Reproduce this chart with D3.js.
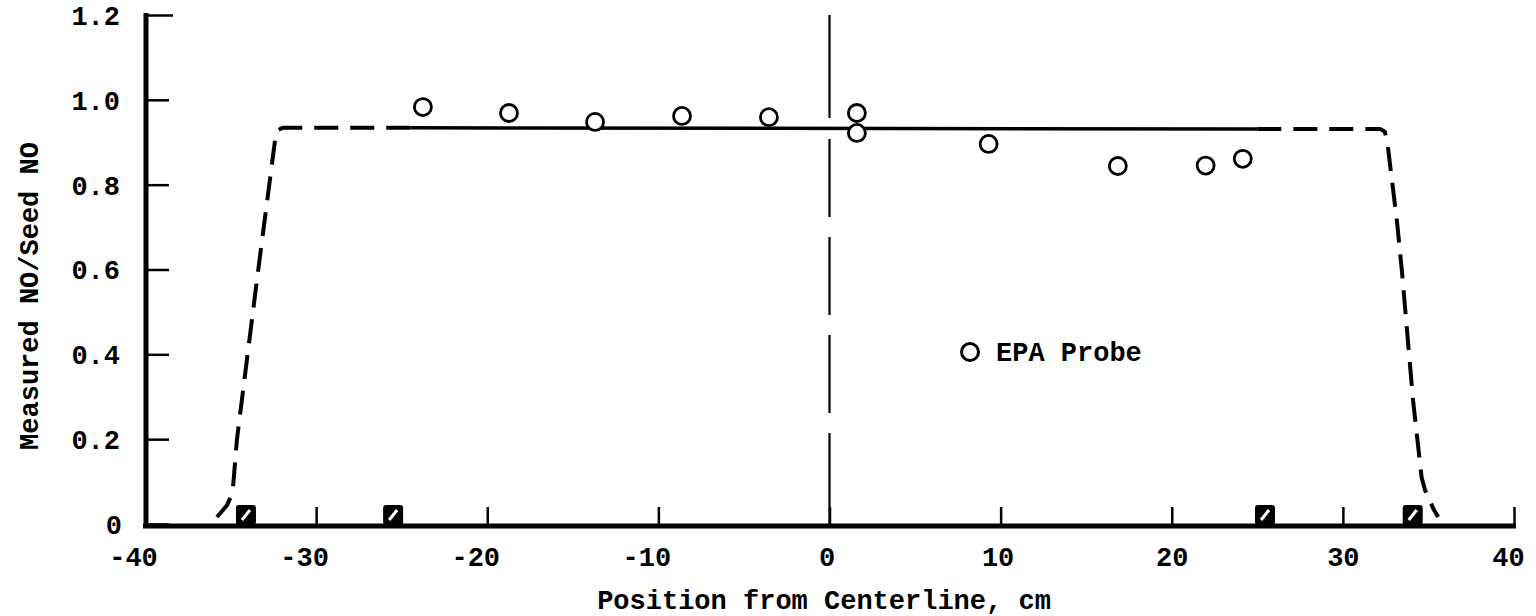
<html>
<head>
    <script src="https://d3js.org/d3.v7.min.js"></script>
    <style>
        body { margin: 0; background: #fff; }
        text { font-family: "Liberation Mono", "Courier New", monospace; fill: #000; font-weight: bold; }
    </style>
</head>
<body>
    <svg id="chart" width="1536" height="616"></svg>
    <script>
        // EPA probe readings
        const probeX = [-23.76, -18.73, -13.7, -8.62, -3.54, 1.6, 1.6, 9.3, 16.85, 21.98, 24.15];
        const probeY = [0.983, 0.969, 0.948, 0.962, 0.959, 0.969, 0.922, 0.896, 0.844, 0.845, 0.861];

        // solid profile across the core
        const coreX = [-24.5, 25.0];
        const coreY = [0.934, 0.931];

        // dashed edges of the profile
        const leftX = [-24.5, -31.95, -32.25, -32.4, -33.46, -34.34, -34.63, -34.86, -35.0, -35.2, -35.5, -35.8];
        const leftY = [0.934, 0.934, 0.928, 0.905, 0.575, 0.292, 0.198, 0.085, 0.063, 0.045, 0.03, 0.0165];
        const rightX = [25.0, 32.2, 32.45, 32.6, 33.17, 33.46, 34.1, 34.6, 34.8, 35.05, 35.3, 35.57];
        const rightY = [0.931, 0.931, 0.925, 0.9, 0.71, 0.592, 0.292, 0.11, 0.08, 0.058, 0.035, 0.0165];

        // hatched markers on the wall
        const markerX = [-34.1, -25.5, 25.45, 34.08];

        const xTicks = [-40, -30, -20, -10, 0, 10, 20, 30, 40];
        const yTicks = [0, 0.2, 0.4, 0.6, 0.8, 1.0, 1.2];

        const svg = d3.select("#chart");
        const x = d3.scaleLinear().domain([-40, 40]).range([145, 1514]);
        const y = d3.scaleLinear().domain([0, 1.2]).range([524, 15]);

        const line = d3.line().x(d => x(d[0])).y(d => y(d[1]));

        // centerline
        svg.append("line")
            .attr("x1", x(0)).attr("x2", x(0))
            .attr("y1", y(1.2)).attr("y2", y(0))
            .attr("stroke", "#000").attr("stroke-width", 2.2)
            .attr("stroke-dasharray", "103 21 78 20 78 20 78 20 95");

        // profile
        svg.append("path")
            .datum(leftX.map((v, i) => [v, leftY[i]]))
            .attr("d", line).attr("fill", "none").attr("stroke", "#000")
            .attr("stroke-width", 4).attr("stroke-dasharray", "24 12")
            .attr("stroke-linejoin", "round");
        svg.append("path")
            .datum(rightX.map((v, i) => [v, rightY[i]]))
            .attr("d", line).attr("fill", "none").attr("stroke", "#000")
            .attr("stroke-width", 4).attr("stroke-dasharray", "24 12")
            .attr("stroke-linejoin", "round");
        svg.append("path")
            .datum(coreX.map((v, i) => [v, coreY[i]]))
            .attr("d", line)
            .attr("fill", "none").attr("stroke", "#000").attr("stroke-width", 3.5);

        // axes
        const yAxis = svg.append("g")
            .attr("transform", "translate(146,0)")
            .call(d3.axisLeft(y).tickValues(yTicks).tickSize(-23).tickSizeOuter(0).tickPadding(26)
                .tickFormat(d => d === 0 ? "0" : d3.format(".1f")(d)));
        yAxis.select(".domain").attr("stroke-width", 5).attr("d", "M0,527V13");
        yAxis.selectAll(".tick line").attr("stroke-width", 2.5).attr("x2", d => d === 1.2 ? 27 : 23);
        yAxis.selectAll(".tick text").attr("font-size", 27).attr("font-family", null)
            .attr("dy", "0.35em").attr("x", d => d === 0 ? -24 : -26);

        const xAxis = svg.append("g")
            .attr("transform", "translate(0,526)")
            .call(d3.axisBottom(x).tickValues(xTicks).tickSize(-19).tickSizeOuter(0).tickPadding(22)
                .tickFormat(d => String(d)));
        xAxis.select(".domain").attr("stroke-width", 5).attr("d", "M143,0H1516");
        xAxis.selectAll(".tick line").attr("stroke-width", 2.5);
        xAxis.selectAll(".tick text").attr("font-size", 27).attr("font-family", null)
            .attr("y", 31).attr("dy", "0.35em")
            .attr("dx", d => d < 0 ? -12 : (d === 40 ? -6 : (d > 0 && d < 20 ? -3 : (d === 0 ? -3 : 0))));

        // markers
        const mk = svg.append("g").selectAll("g").data(markerX).join("g")
            .attr("transform", d => "translate(" + x(d) + "," + (y(0) - 9) + ")");
        mk.append("rect").attr("x", -10).attr("y", -10).attr("width", 20).attr("height", 20)
            .attr("rx", 3).attr("fill", "#000");
        mk.append("line").attr("x1", -4).attr("y1", 5).attr("x2", 4).attr("y2", -5)
            .attr("stroke", "#fff").attr("stroke-width", 3);

        // probe points
        svg.append("g").selectAll("circle")
            .data(probeX.map((v, i) => [v, probeY[i]]))
            .join("circle")
            .attr("cx", d => x(d[0])).attr("cy", d => y(d[1]))
            .attr("r", 8.5).attr("fill", "#fff").attr("stroke", "#000").attr("stroke-width", 2.8);

        // legend
        svg.append("circle").attr("cx", 970).attr("cy", 352).attr("r", 8.5)
            .attr("fill", "#fff").attr("stroke", "#000").attr("stroke-width", 3);
        svg.append("text").attr("x", 996).attr("y", 352).attr("dy", "0.35em")
            .attr("font-size", 27).text("EPA Probe");

        // titles
        svg.append("text").attr("x", 824).attr("y", 600).attr("dy", "0.35em")
            .attr("text-anchor", "middle").attr("font-size", 27)
            .text("Position from Centerline, cm");
        svg.append("text")
            .attr("transform", "translate(29,296) rotate(-90)")
            .attr("dy", "0.35em").attr("text-anchor", "middle").attr("font-size", 27)
            .text("Measured NO/Seed NO");
    </script>
</body>
</html>
